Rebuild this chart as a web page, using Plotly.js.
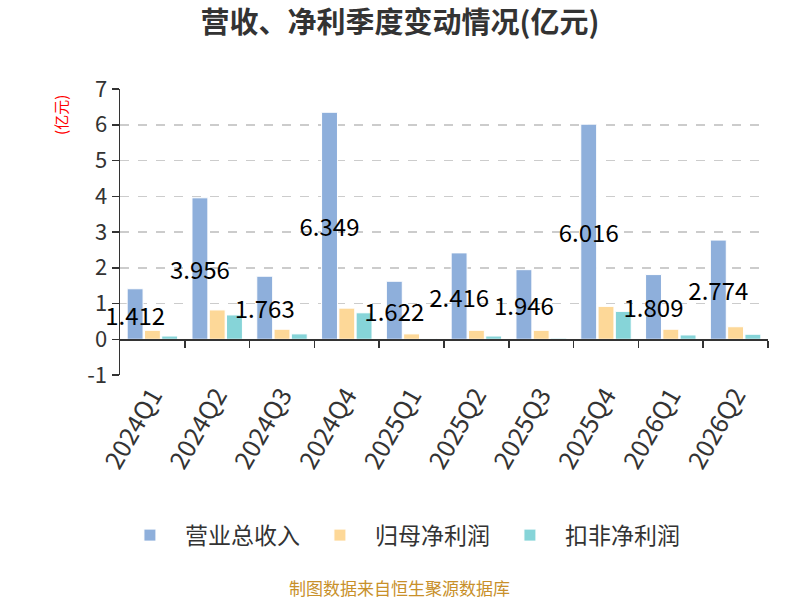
<!DOCTYPE html>
<html>
<head>
<meta charset="utf-8">
<script src="https://cdn.plot.ly/plotly-3.0.1.min.js"></script>
<style>html,body{margin:0;padding:0;background:#fff;}#chart{width:800px;height:600px;}</style>
</head>
<body>
<div id="chart"></div>
<script>
const categories = ['2024Q1','2024Q2','2024Q3','2024Q4','2025Q1','2025Q2','2025Q3','2025Q4','2026Q1','2026Q2'];
const revenue = [1.412, 3.956, 1.763, 6.349, 1.622, 2.416, 1.946, 6.016, 1.809, 2.774];
const netProfit = [0.25, 0.82, 0.28, 0.87, 0.15, 0.25, 0.25, 0.92, 0.28, 0.35];
const deductedProfit = [0.09, 0.68, 0.15, 0.74, 0.02, 0.09, 0.03, 0.78, 0.12, 0.14];
const seriesNames = ['营业总收入', '归母净利润', '扣非净利润'];
const yTicks = [-1, 0, 1, 2, 3, 4, 5, 6, 7];
const colors = ['#8eafdb', '#fdd898', '#86d4d8'];

const font = '"Noto Sans CJK SC", "Noto Sans", sans-serif';
const boundaries = categories.map((_, i) => i + 0.5);

const traces = [
  {
    type: 'bar', name: seriesNames[0], x: categories, y: revenue, offsetgroup: 'a',
    marker: {color: colors[0], line: {color: '#ffffff', width: 1}}, hoverinfo: 'skip'
  },
  {
    type: 'bar', name: seriesNames[1], x: categories, y: netProfit, offsetgroup: 'b',
    marker: {color: colors[1], line: {color: '#ffffff', width: 1}}, hoverinfo: 'skip'
  },
  {
    type: 'bar', name: seriesNames[2], x: categories, y: deductedProfit, offsetgroup: 'c',
    marker: {color: colors[2], line: {color: '#ffffff', width: 1}}, hoverinfo: 'skip'
  },
  {
    // label layer on top of all bars, sharing the revenue bar's slot
    type: 'bar', name: seriesNames[0] + ' 标签', x: categories, y: revenue, offsetgroup: 'a',
    marker: {color: 'rgba(0,0,0,0)', line: {width: 0}}, showlegend: false,
    text: revenue.map(v => v.toFixed(3)), textposition: 'inside',
    insidetextanchor: 'middle', constraintext: 'none', textangle: 0, cliponaxis: false,
    insidetextfont: {color: '#000', size: 24, family: font},
    hoverinfo: 'skip'
  },
  {
    type: 'scatter', mode: 'markers', x: boundaries, y: boundaries.map(() => null),
    xaxis: 'x2', yaxis: 'y', showlegend: false, hoverinfo: 'skip'
  }
];

const layout = {
  width: 800, height: 600,
  margin: {l: 120, r: 32, t: 89, b: 225},
  paper_bgcolor: '#fff', plot_bgcolor: '#fff',
  font: {family: font, color: '#333'},
  title: {text: '<b>营收、净利季度变动情况(亿元)</b>', x: 0.5, xanchor: 'center', y: 0.962, yanchor: 'middle',
          font: {size: 29, color: '#333', family: font}},
  barmode: 'group', bargap: 0.2, bargroupgap: 0.08,
  xaxis: {
    type: 'category', range: [-0.5, categories.length - 0.5],
    tickangle: -60, tickfont: {size: 25, color: '#333', family: font},
    showline: false, showgrid: false, zeroline: false, ticks: '', fixedrange: true
  },
  xaxis2: {
    overlaying: 'x', anchor: 'free', position: 0.125,
    range: [-0.5, categories.length - 0.5],
    tickmode: 'array', tickvals: boundaries, showticklabels: false,
    ticks: 'outside', ticklen: 7, tickcolor: '#333', tickwidth: 1.5,
    showline: true, linecolor: '#333', linewidth: 1.5,
    showgrid: false, zeroline: false
  },
  yaxis: {
    range: [-1, 7], tickmode: 'array', tickvals: yTicks, ticktext: yTicks.map(String),
    tickfont: {size: 22, color: '#333', family: font},
    showline: true, linecolor: '#333', linewidth: 1.5,
    ticks: 'outside', ticklen: 7, tickcolor: '#333', tickwidth: 1.5,
    showgrid: true, gridcolor: '#cccccc', griddash: 'dash', gridwidth: 1.5,
    zeroline: false
  },
  legend: {
    orientation: 'h', x: 0.432, xanchor: 'center', y: -0.56, yanchor: 'middle',
    font: {size: 23, color: '#333', family: font}, itemwidth: 60
  },
  annotations: [
    {text: '(亿元)', xref: 'paper', yref: 'paper', x: -0.112, y: 0.986, yanchor: 'top',
     textangle: -90, showarrow: false, font: {size: 15, color: '#ff0000', family: font}},
    {text: '制图数据来自恒生聚源数据库', xref: 'paper', yref: 'paper', x: 0.431, y: -0.742,
     xanchor: 'center', yanchor: 'middle', showarrow: false, font: {size: 17, color: '#c8902a', family: font}}
  ],
  showlegend: true
};

Plotly.newPlot('chart', traces, layout, {displayModeBar: false, staticPlot: true});
</script>
</body>
</html>
